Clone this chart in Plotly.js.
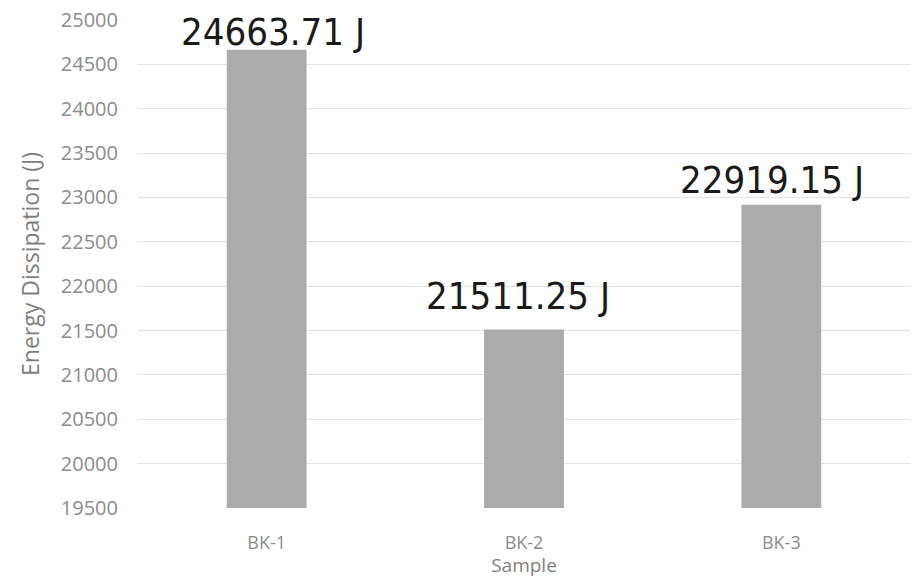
<!DOCTYPE html>
<html>
<head>
<meta charset="utf-8">
<script src="https://cdn.plot.ly/plotly-3.0.1.min.js"></script>
<style>
  html, body { margin: 0; padding: 0; background: #fff; }
  #chart { width: 914px; height: 578px; }
</style>
</head>
<body>
<div id="chart"></div>
<script>
// Energy dissipated by each sample
const samples = ['BK-1', 'BK-2', 'BK-3'];
const energy = [24663.71, 21511.25, 22919.15];
const yTicks = [19500, 20000, 20500, 21000, 21500, 22000, 22500, 23000, 23500, 24000, 24500, 25000];

// per-label nudges (pixels) for the value labels
const labelShiftX = [6, -6, -9];
const labelShiftY = [-6, 10, 1];

const axisFamily = '"Open Sans", sans-serif';
const labelFont = { family: '"DejaVu Sans Condensed", "DejaVu Sans", sans-serif', size: 38, color: '#1a1a1a' };

const trace = {
  type: 'bar',
  x: samples,
  y: energy,
  marker: { color: '#ababab' },
  hoverinfo: 'skip'
};

// value labels sit above each bar
const annotations = samples.map((s, i) => ({
  x: s,
  y: energy[i],
  xref: 'x',
  yref: 'y',
  text: energy[i].toFixed(2) + ' J',
  showarrow: false,
  yanchor: 'bottom',
  xshift: labelShiftX[i],
  yshift: labelShiftY[i],
  font: labelFont
}));

const layout = {
  width: 914,
  height: 578,
  margin: { l: 138, r: 4, t: 20, b: 70 },
  paper_bgcolor: '#ffffff',
  plot_bgcolor: '#ffffff',
  showlegend: false,
  bargap: 0.69,
  xaxis: {
    type: 'category',
    showgrid: false,
    showline: false,
    zeroline: false,
    ticks: '',
    tickfont: { family: axisFamily, size: 18, color: '#8c8c8c' },
    ticklabelstandoff: 22,
    title: { text: 'Sample', font: { family: axisFamily, size: 19, color: '#808080' }, standoff: 1 }
  },
  yaxis: {
    range: [19500, 25000],
    tickvals: yTicks,
    ticktext: yTicks.map(String),
    showgrid: true,
    gridcolor: '#e2e2e2',
    gridwidth: 1,
    zeroline: false,
    showline: false,
    ticks: '',
    tickfont: { family: axisFamily, size: 20, color: '#8c8c8c' },
    ticklabelstandoff: 19,
    title: { text: 'Energy Dissipation (J)', font: { family: axisFamily, size: 23, color: '#808080' }, standoff: 14 }
  },
  annotations: annotations
};

Plotly.newPlot('chart', [trace], layout, { displayModeBar: false, staticPlot: true });
</script>
</body>
</html>
